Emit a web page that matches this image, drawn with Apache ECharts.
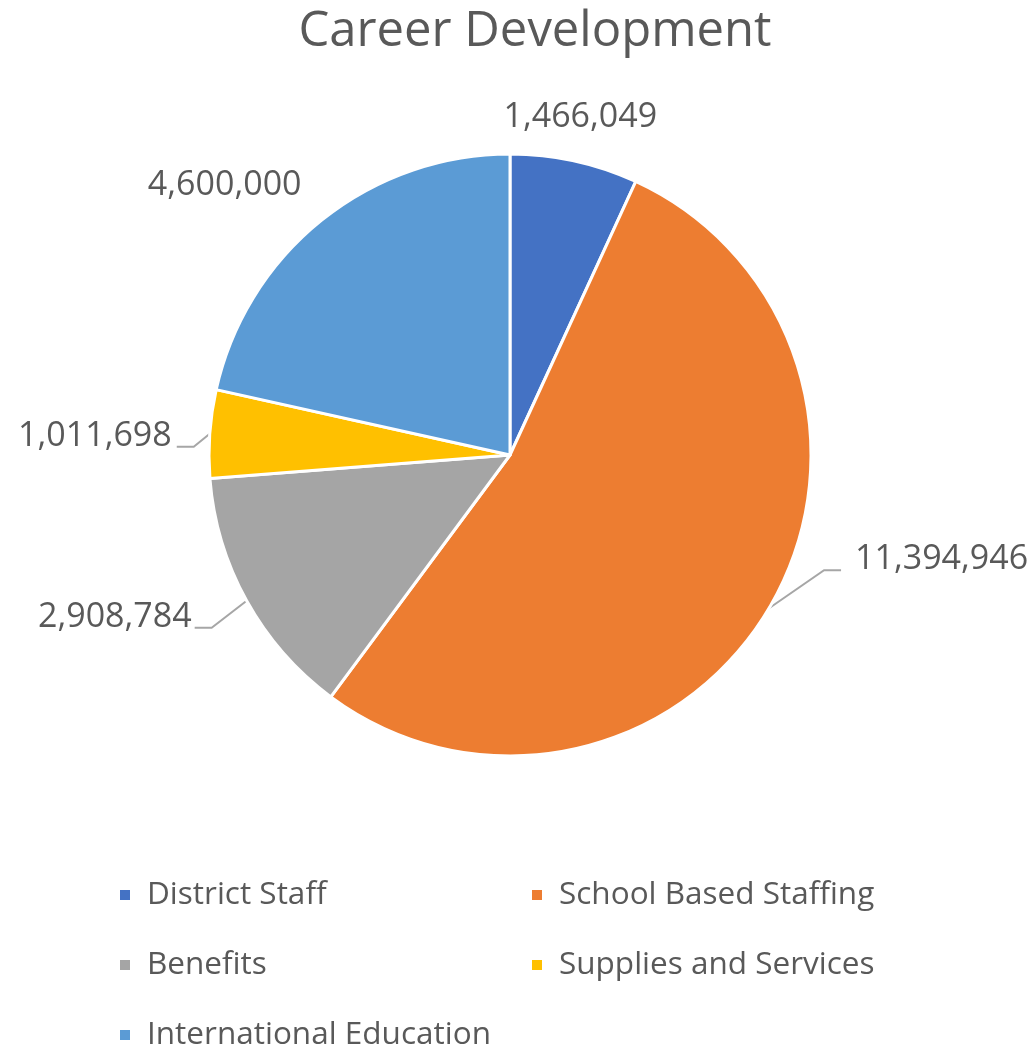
<!DOCTYPE html>
<html>
<head>
<meta charset="utf-8">
<script src="https://cdn.jsdelivr.net/npm/echarts@6/dist/echarts.min.js"></script>
<style>
  html, body { margin: 0; padding: 0; background: #ffffff; }
  #chart { width: 1035px; height: 1048px; }
</style>
</head>
<body>
<div id="chart"></div>
<script>
// ---- Data ----
const titleText = 'Career Development';
const categories = ['District Staff', 'School Based Staffing', 'Benefits', 'Supplies and Services', 'International Education'];
const values = [1466049, 11394946, 2908784, 1011698, 4600000];

// ---- Style ----
const colors = ['#4472C4', '#ED7D31', '#A5A5A5', '#FFC000', '#5B9BD5'];
const textColor = '#595959';
const fontFamily = '"Open Sans", "Noto Sans", sans-serif';
// label placement relative to the slice's outer mid-point (computed by the library)
const labelPlacement = [
  { dx: 6,   dy: -44, align: 'center', line: false },
  { dx: 86,  dy: -49, align: 'left',   line: true, gap: 14, lineDy: 11 },
  { dx: -55, dy: 17,  align: 'right',  line: true, gap: 3,  lineDy: 10 },
  { dx: -38, dy: 2,   align: 'right',  line: true, gap: 5,  lineDy: 11 },
  { dx: -97, dy: -35, align: 'center', line: false }
];

const chart = echarts.init(document.getElementById('chart'), null, { renderer: 'canvas' });

const pieData = categories.map(function (name, i) {
  return {
    name: name,
    value: values[i],
    itemStyle: { color: colors[i] },
    labelLine: { show: labelPlacement[i].line }
  };
});

function anchorOf(params) {
  try {
    const lay = chart.getModel().getSeriesByIndex(0).getData().getItemLayout(params.dataIndex);
    const mid = (lay.startAngle + lay.endAngle) / 2;
    return [lay.cx + lay.r * Math.cos(mid), lay.cy + lay.r * Math.sin(mid)];
  } catch (e) {
    if (params.labelLinePoints && params.labelLinePoints.length) return params.labelLinePoints[0];
    return [params.labelRect.x, params.labelRect.y];
  }
}

chart.setOption({
  backgroundColor: '#ffffff',
  animation: false,
  title: {
    text: titleText,
    left: 535,
    textAlign: 'center',
    top: 8,
    padding: 0,
    textStyle: { color: textColor, fontFamily: fontFamily, fontSize: 49, fontWeight: 'normal' }
  },
  legend: {
    data: categories,
    left: 118,
    top: 860,
    width: 830,
    padding: 0,
    orient: 'horizontal',
    icon: 'rect',
    itemWidth: 12,
    itemHeight: 12,
    itemGap: 0,
    textStyle: {
      color: textColor,
      fontFamily: fontFamily,
      fontSize: 31.5,
      width: 383,
      lineHeight: 70,
      padding: [0, 0, 0, 11]
    }
  },
  series: [{
    type: 'pie',
    center: [510, 455],
    radius: 301,
    startAngle: 90,
    clockwise: true,
    avoidLabelOverlap: false,
    itemStyle: { borderColor: '#ffffff', borderWidth: 3 },
    label: {
      show: true,
      position: 'outside',
      color: textColor,
      fontFamily: fontFamily,
      fontSize: 34,
      formatter: function (p) { return echarts.format.addCommas(p.value); }
    },
    labelLine: {
      show: true,
      length: 20,
      length2: 20,
      lineStyle: { color: '#A6A6A6', width: 2 }
    },
    labelLayout: function (params) {
      const o = labelPlacement[params.dataIndex];
      const a = anchorOf(params);
      const tx = a[0] + o.dx, ty = a[1] + o.dy;
      const res = { x: tx, y: ty, align: o.align, verticalAlign: 'middle' };
      if (o.line) {
        const side = o.align === 'left' ? 1 : -1;
        const ex = tx - side * o.gap, ey = ty + o.lineDy;
        res.labelLinePoints = [[a[0], a[1]], [ex - side * 17, ey], [ex, ey]];
      }
      return res;
    },
    data: pieData
  }]
});
</script>
</body>
</html>
